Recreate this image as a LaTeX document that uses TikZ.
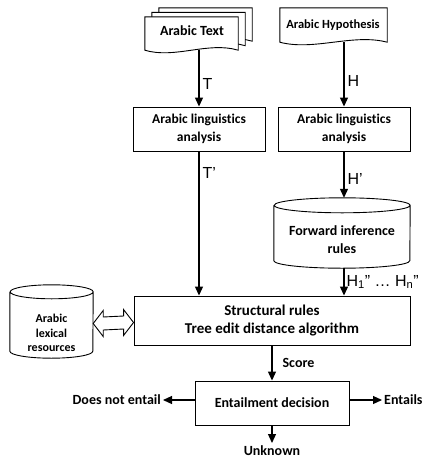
\documentclass[tikz,border=0pt]{standalone}
\usepackage{fontspec}
\setmainfont{Carlito}[Ligatures=NoCommon]
\newfontfamily\labfont{Liberation Sans}
\usetikzlibrary{arrows.meta,calc}

\tikzset{
  box/.style={draw, line width=0.9pt, align=center, font=\bfseries\fontsize{13.5}{18}\selectfont},
  ghost/.style={inner sep=0pt, align=center, font=\bfseries\fontsize{13.5}{18}\selectfont},
  arr/.style={line width=1.2pt, -{Triangle[length=9pt,width=8pt]}},
  lab/.style={font=\labfont\fontsize{16}{16}\selectfont, inner sep=3pt},
  result/.style={font=\bfseries\fontsize{14}{16}\selectfont, inner sep=2pt}
}

\begin{document}
\begin{tikzpicture}[x=1pt, y=-1pt]
  \useasboundingbox (0,0) rectangle (426,461);

  % input documents
  \node (txt3) [ghost, minimum width=93pt, minimum height=33pt] at (205.5,24.5) {};
  \node (txt2) [ghost, minimum width=93pt, minimum height=33pt] at (198.5,29) {};
  \node (txt) [ghost, minimum width=93pt, minimum height=33pt] at (191.5,33.5) {};
  \node (hyp) [ghost, minimum width=107pt, minimum height=34pt] at (333.5,25) {};

  \foreach \d/\w in {txt3/30pt, txt2/30pt, txt/30pt, hyp/34pt} {
    \draw[line width=0.9pt, fill=white] (\d.south west) -- (\d.north west) -- (\d.north east) -- (\d.south east)
      .. controls +(-\w,9pt) and +(\w,-9pt) .. (\d.south west) -- cycle;
  }
  \node [ghost, font=\bfseries\fontsize{14}{18}\selectfont] at (192,31) {Arabic Text};
  \node [ghost, font=\bfseries\fontsize{12.5}{18}\selectfont] at (333,25) {Arabic Hypothesis};

  % analysis
  \node (la) [box, minimum width=132pt, minimum height=44pt] at (199,129) {Arabic linguistics\\analysis};
  \node (lb) [box, minimum width=132pt, minimum height=44pt] at (344,129) {Arabic linguistics\\analysis};

  % rule bases
  \node (fwd) [ghost, minimum width=136pt, minimum height=70pt] at (342,233) {};
  \draw[line width=0.9pt] ([yshift=-7.5pt]fwd.north west) -- ([yshift=7.5pt]fwd.south west)
    arc[start angle=180, end angle=360, x radius=68pt, y radius=7.5pt]
    -- ([yshift=-7.5pt]fwd.north east)
    arc[start angle=0, end angle=360, x radius=68pt, y radius=7.5pt];
  \node at (342,240) [ghost, font=\bfseries\fontsize{14}{18}\selectfont] {Forward inference\\rules};

  \node (lex) [ghost, minimum width=83pt, minimum height=73pt] at (51.5,321.5) {};
  \draw[line width=0.9pt] ([yshift=-7pt]lex.north west) -- ([yshift=7pt]lex.south west)
    arc[start angle=180, end angle=360, x radius=41.5pt, y radius=7pt]
    -- ([yshift=-7pt]lex.north east)
    arc[start angle=0, end angle=360, x radius=41.5pt, y radius=7pt];
  \node at (51.5,333) [ghost, font=\bfseries\fontsize{12}{14.5}\selectfont] {Arabic\\lexical\\resources};

  % matching
  \node (main) [box, minimum width=276pt, minimum height=49pt, font=\bfseries\fontsize{15}{18}\selectfont] at (272,320.5) {Structural rules\\Tree edit distance algorithm};
  \node (dec) [box, minimum width=154pt, minimum height=44pt, font=\bfseries\fontsize{14}{18}\selectfont] at (272,403) {Entailment decision};

  \node (no) [result, anchor=east] at (163,400) {Does not entail};
  \node (yes) [result, anchor=west] at (382,400) {Entails};
  \node (unk) [result, anchor=north] at (272,443) {Unknown};

  % connectors
  \draw[arr] (txt.south -| la.north) -- node[lab, right, pos=0.6] {T} (la.north);
  \draw[arr] (hyp.south -| lb.north) -- node[lab, right, pos=0.6] {H} (lb.north);
  \draw[arr] (la.south) -- node[lab, right, pos=0.15] {T’} (la.south |- main.north);
  \draw[arr] (lb.south) -- node[lab, right, pos=0.6] {H’} (lb.south |- fwd.north);
  \draw[arr] (fwd.south -| lb.south) -- node[lab, right, inner sep=2pt] {H\textsubscript{1}” … H\textsubscript{n}”} (lb.south |- main.north);

  \draw[line width=0.9pt, fill=white] ([yshift=-2pt]lex.east) -- ++(10pt,13pt) -- ++(0,-6.5pt)
    -- ($([yshift=-2pt]main.west)+(-10pt,6.5pt)$) -- ++(0,6.5pt) -- ([yshift=-2pt]main.west)
    -- ++(-10pt,-13pt) -- ++(0,6.5pt) -- ($([yshift=-2pt]lex.east)+(10pt,-6.5pt)$) -- ++(0,-6.5pt) -- cycle;

  \draw[arr] (main.south) -- node[result, right, inner sep=10pt] {Score} (dec.north);
  \draw[arr] (dec.west |- no.east) -- (no.east);
  \draw[arr] (dec.east |- yes.west) -- (yes.west);
  \draw[arr] (dec.south) -- (unk.north);
\end{tikzpicture}
\end{document}
